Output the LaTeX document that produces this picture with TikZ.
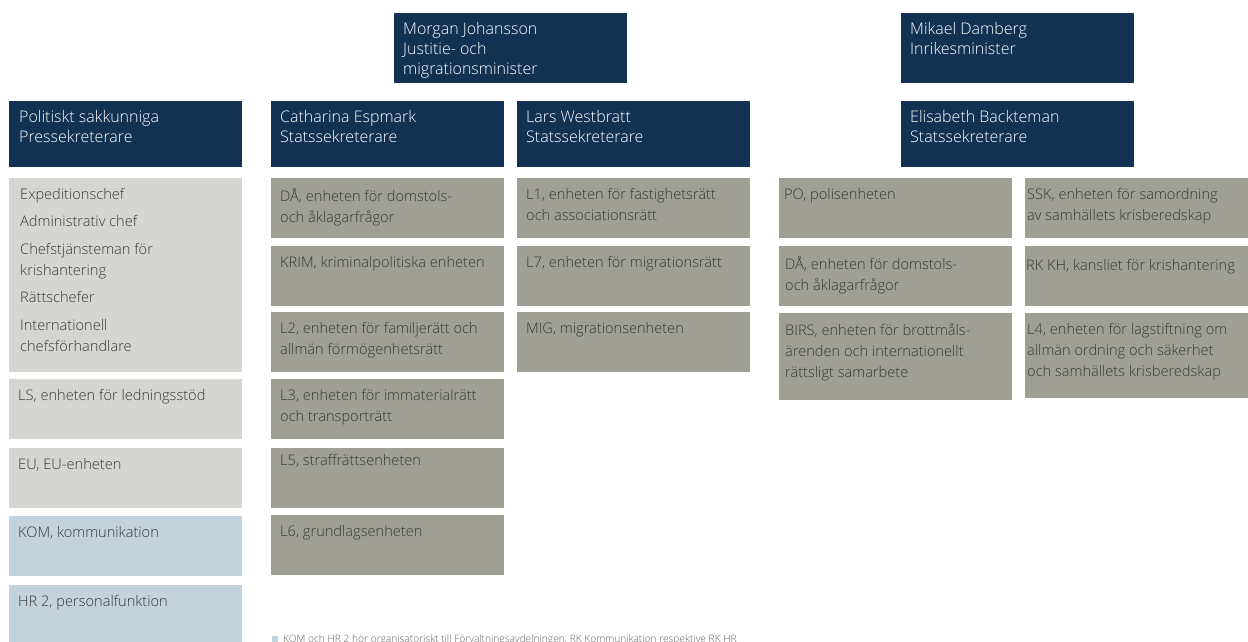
\documentclass[tikz,border=0pt]{standalone}
\usepackage{fontspec}
\setmainfont{Open Sans Light}
\usetikzlibrary{positioning}

\definecolor{navy}{RGB}{18,49,83}
\definecolor{unitgray}{RGB}{160,159,150}
\definecolor{staffgray}{RGB}{213,214,209}
\definecolor{commblue}{RGB}{194,211,221}
\definecolor{darktext}{RGB}{55,55,53}

\tikzset{
  x=1pt, y=-1pt, % one unit is one pixel of the layout, y runs downward
  box/.style={anchor=north west, minimum width=233pt, minimum height=60pt, inner sep=0pt, outer sep=0pt}, % plain block
  head/.style={box, fill=navy, minimum height=66pt}, % ministers and secretaries
  unit/.style={box, fill=unitgray}, % departments
  staff/.style={box, fill=staffgray}, % staff functions
  comm/.style={box, fill=commblue}, % functions placed elsewhere
  txt/.style={anchor=north west, align=left, inner xsep=9pt, inner ysep=10pt, text=darktext, font=\fontsize{14.6}{21}\selectfont}, % text in the top left corner
  htxt/.style={txt, text=white, inner ysep=9pt, font=\fontsize{16}{20}\selectfont}, % text on dark blocks
}

\begin{document}
\begin{tikzpicture}
    \useasboundingbox (0,0) rectangle (1248,641);

    % ministers
    \node[head, minimum height=70pt, label={[htxt]north west:Morgan Johansson\\Justitie- och\\migrationsminister}] (mj) at (394,13) {};
    \node[head, minimum height=70pt, label={[htxt]north west:Mikael Damberg\\Inrikesminister}] (md) at (901,13) {};

    % secretaries
    \node[head, label={[htxt, inner xsep=10pt]north west:Politiskt sakkunniga\\Pressekreterare}] (ps) at (9,101) {};
    \node[head, label={[htxt]north west:Catharina Espmark\\Statssekreterare}] (ce) at (271,101) {};
    \node[head, label={[htxt]north west:Lars Westbratt\\Statssekreterare}] (lw) at (517,101) {};
    \node[head, label={[htxt]north west:Elisabeth Backteman\\Statssekreterare}] (eb) at (901,101) {};

    % staff column
    \node[staff, minimum height=194pt, label={[txt, inner xsep=11pt]north west:Expeditionschef\\[6.5pt]Administrativ chef\\[6.5pt]Chefstjänsteman för\\krishantering\\[6.5pt]Rättschefer\\[6.5pt]Internationell\\chefsförhandlare}] (exp) at (9,178) {};
    \node[staff, label={[txt]north west:LS, enheten för ledningsstöd}] (ls) at (9,379) {};
    \node[staff, label={[txt]north west:EU, EU-enheten}] (eu) at (9,448) {};
    \node[comm, label={[txt]north west:KOM, kommunikation}] (kom) at (9,516) {};
    \node[comm, minimum height=70pt, label={[txt]north west:HR 2, personalfunktion}] (hr) at (9,585) {};

    % Catharina Espmark
    \node[unit, label={[txt]north west:DÅ, enheten för domstols-\\och åklagarfrågor}] (da) at (271,178) {};
    \node[unit, label={[txt]north west:KRIM, kriminalpolitiska enheten}] (krim) at (271,246) {};
    \node[unit, label={[txt]north west:L2, enheten för familjerätt och\\allmän förmögenhetsrätt}] (ltwo) at (271,312) {};
    \node[unit, label={[txt]north west:L3, enheten för immaterialrätt\\och transporträtt}] (lthree) at (271,379) {};
    \node[unit, label={[txt, inner ysep=6.5pt]north west:L5, straffrättsenheten}] (lfive) at (271,448) {};
    \node[unit, label={[txt]north west:L6, grundlagsenheten}] (lsix) at (271,515) {};

    % Lars Westbratt
    \node[unit, label={[txt]north west:L1, enheten för fastighetsrätt\\och associationsrätt}] (lone) at (517,178) {};
    \node[unit, label={[txt]north west:L7, enheten för migrationsrätt}] (lseven) at (517,246) {};
    \node[unit, label={[txt]north west:MIG, migrationsenheten}] (mig) at (517,312) {};

    % Elisabeth Backteman
    \node[unit, label={[txt, inner xsep=5pt]north west:PO, polisenheten}] (po) at (779,178) {};
    \node[unit, label={[txt, inner xsep=6pt]north west:DÅ, enheten för domstols-\\och åklagarfrågor}] (datwo) at (779,246) {};
    \node[unit, minimum height=87pt, label={[txt, inner xsep=6pt]north west:BIRS, enheten för brottmåls-\\ärenden och internationellt\\rättsligt samarbete}] (birs) at (779,313) {};
    \node[unit, minimum width=223pt, label={[txt, inner xsep=2pt]north west:SSK, enheten för samordning\\av samhällets krisberedskap}] (ssk) at (1025,178) {};
    \node[unit, minimum width=223pt, label={[txt, inner xsep=1pt, inner ysep=13.5pt]north west:RK KH, kansliet för krishantering}] (rkkh) at (1025,246) {};
    \node[unit, minimum width=223pt, minimum height=85pt, label={[txt, inner xsep=2pt]north west:L4, enheten för lagstiftning om\\allmän ordning och säkerhet\\och samhällets krisberedskap}] (lfour) at (1025,313) {};

    % footnote
    \node[fill=commblue, minimum size=6pt, inner sep=0pt, anchor=north west] (key) at (272,636) {};
    \node[anchor=base west, inner sep=0pt, text=darktext!80, font=\fontsize{10.2}{12}\selectfont] (note) at (283,642) {KOM och HR 2 hör organisatoriskt till Förvaltningsavdelningen, RK Kommunikation respektive RK HR};
\end{tikzpicture}
\end{document}
